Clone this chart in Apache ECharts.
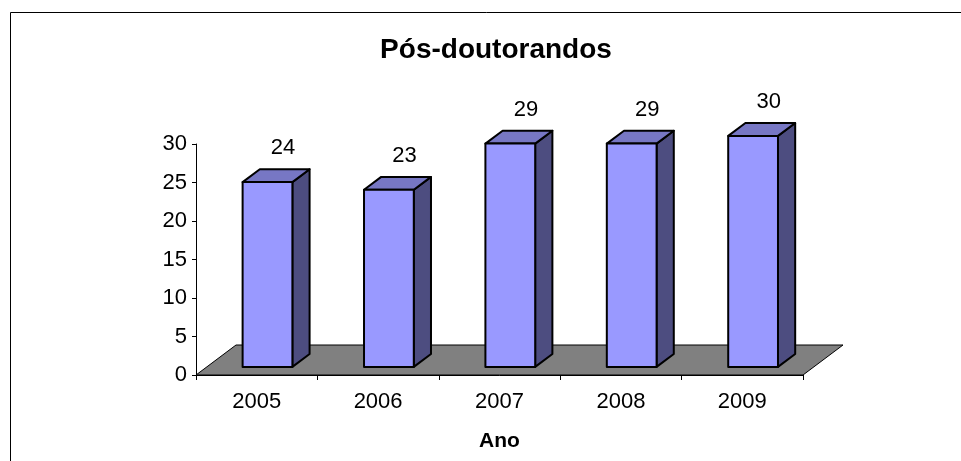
<!DOCTYPE html>
<html>
<head>
<meta charset="utf-8">
<script src="https://cdn.jsdelivr.net/npm/echarts@6/dist/echarts.min.js"></script>
<style>
  html, body { margin: 0; padding: 0; background: #fff; }
  #chart { width: 961px; height: 461px; }
</style>
</head>
<body>
<div id="chart"></div>
<script>
  const years = ['2005', '2006', '2007', '2008', '2009'] // eixo x
  const values = [24, 23, 29, 29, 30] // pós-doutorandos por ano
  const yMin = 0
  const yMax = 30
  const yStep = 5

  const chart = echarts.init(document.getElementById('chart'))
  const FONT = '"Liberation Sans", Arial, sans-serif'
  // profundidade do "chão" 3D
  const depthX = 40
  const depthY = -30
  const f1 = 0.27
  const f2 = 0.70

  function renderFloor(params, api) {
    const cs = params.coordSys
    const x0 = cs.x
    const x1 = cs.x + cs.width
    const y0 = cs.y + cs.height
    return {
      type: 'polygon',
      shape: { points: [[x0, y0], [x1, y0], [x1 + depthX, y0 + depthY], [x0 + depthX, y0 + depthY]] },
      style: { fill: '#808080', stroke: '#000', lineWidth: 1 }
    }
  }

  function renderBar(params, api) {
    const i = api.value(0)
    const v = api.value(1)
    const base = api.coord([i, 0])
    const top = api.coord([i, v])
    const band = api.size([1, 0])[0]
    const w = band * 0.41
    const ox = f1 * depthX
    const oy = f1 * depthY
    const bx = (f2 - f1) * depthX
    const by = (f2 - f1) * depthY
    const L = base[0] - w / 2 + ox
    const R = L + w
    const B = base[1] + oy
    const T = top[1] + oy
    const line = { stroke: '#000', lineWidth: 2, lineJoin: 'round' }
    return {
      type: 'group',
      children: [
        { type: 'polygon', shape: { points: [[R, B], [R + bx, B + by], [R + bx, T + by], [R, T]] }, style: Object.assign({ fill: '#4D4D80' }, line) },
        { type: 'polygon', shape: { points: [[L, T], [R, T], [R + bx, T + by], [L + bx, T + by]] }, style: Object.assign({ fill: '#7777C4' }, line) },
        { type: 'rect', shape: { x: L, y: T, width: w, height: B - T }, style: Object.assign({ fill: '#9999FF' }, line) },
        { type: 'text', style: { text: String(v), x: (L + R) / 2 + bx / 2 + 7, y: T + by - 21, align: 'center', verticalAlign: 'middle', fill: '#000', font: '22px ' + FONT } }
      ]
    }
  }

  const option = {
    animation: false,
    backgroundColor: '#fff',
    title: {
      text: 'Pós-doutorandos',
      left: 491,
      textAlign: 'center',
      top: 31,
      textStyle: { fontFamily: FONT, fontSize: 28, fontWeight: 'bold', color: '#000' }
    },
    graphic: [{
      type: 'rect',
      left: 8,
      top: 10,
      shape: { width: 970, height: 470 },
      style: { fill: 'none', stroke: '#000', lineWidth: 1 },
      silent: true
    }],
    grid: { left: 196, right: 158, top: 144, bottom: 86 },
    xAxis: {
      type: 'category',
      data: years,
      name: 'Ano',
      nameLocation: 'middle',
      nameGap: 56,
      nameTextStyle: { fontFamily: FONT, fontSize: 21, fontWeight: 'bold', color: '#000' },
      axisLine: { lineStyle: { color: '#000', width: 1 } },
      axisTick: { show: true, length: 5, lineStyle: { color: '#000' } },
      axisLabel: { margin: 16, fontFamily: FONT, fontSize: 22, color: '#000' },
      splitLine: { show: false }
    },
    yAxis: {
      type: 'value',
      min: yMin,
      max: yMax,
      interval: yStep,
      axisLine: { show: true, lineStyle: { color: '#000', width: 1 } },
      axisTick: { show: true, length: 4, lineStyle: { color: '#000' } },
      axisLabel: { margin: 9, fontFamily: FONT, fontSize: 22, color: '#000' },
      splitLine: { show: false }
    },
    series: [
      {
        type: 'custom',
        z: 1,
        renderItem: renderFloor,
        data: [[0, 0]],
        silent: true
      },
      {
        type: 'custom',
        z: 2,
        renderItem: renderBar,
        encode: { x: 0, y: 1 },
        data: values.map((v, i) => [i, v])
      }
    ]
  }
  chart.setOption(option)
</script>
</body>
</html>
